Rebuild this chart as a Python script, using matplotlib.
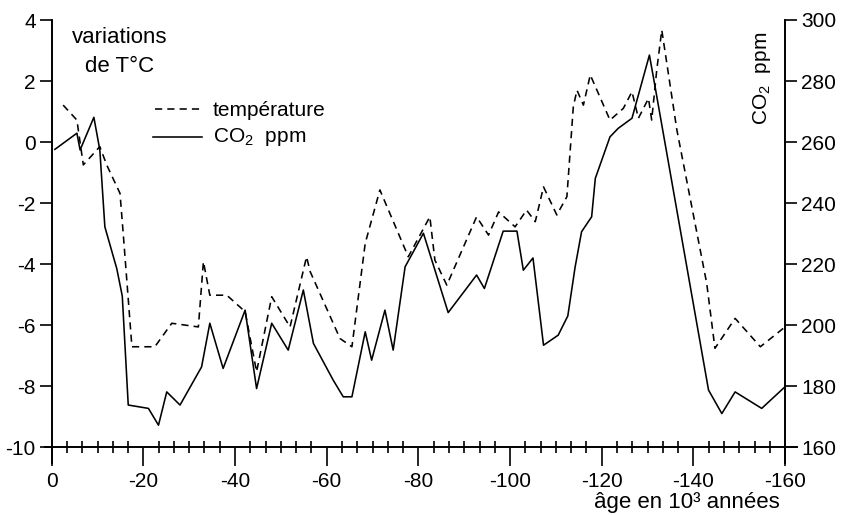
import matplotlib
matplotlib.use("Agg")
import matplotlib.pyplot as plt
from matplotlib.ticker import MultipleLocator, FixedLocator

plt.rcParams['font.family'] = ['Liberation Sans', 'DejaVu Sans']
plt.rcParams['axes.unicode_minus'] = False
plt.rcParams['mathtext.fontset'] = 'custom'
plt.rcParams['mathtext.rm'] = 'Liberation Sans'
plt.rcParams['mathtext.it'] = 'Liberation Sans:italic'

# ---- data (age in thousands of years before present, shown negative) ----
age_temp = [2.5, 5.5, 6.9, 10.5, 12.0, 14.9, 15.6, 17.5, 22.5, 26.2, 32.0, 33.1,
            34.5, 38.2, 42.2, 44.7, 48.0, 52.0, 55.6, 56.4, 62.9, 65.5, 68.4,
            71.6, 77.8, 82.5, 83.6, 86.2, 92.7, 95.3, 97.5, 101.1, 103.6, 105.5,
            107.3, 110.2, 112.4, 113.8, 114.6, 116.0, 117.5, 121.8, 124.7, 126.6,
            128.0, 130.2, 130.9, 132.0, 133.1, 136.4, 142.9, 144.7, 149.1, 154.6,
            160.0]
temp = [1.21, 0.72, -0.75, -0.15, -0.75, -1.68, -2.99, -6.71, -6.71, -5.94, -6.06,
        -3.92, -5.02, -5.02, -5.56, -7.53, -5.07, -6.06, -3.76, -4.25, -6.44, -6.71,
        -3.32, -1.57, -3.76, -2.45, -3.87, -4.69, -2.45, -3.05, -2.29, -2.78, -2.23,
        -2.61, -1.47, -2.39, -1.79, 1.16, 1.70, 1.21, 2.20, 0.72, 1.10, 1.65, 0.78,
        1.43, 0.72, 2.36, 3.67, 0.39, -4.63, -6.76, -5.78, -6.71, -6.06]

age_co2 = [0.7, 5.5, 6.2, 9.2, 10.5, 11.6, 14.2, 15.4, 16.7, 21.1, 23.3, 25.1,
           28.0, 32.7, 34.5, 37.4, 42.2, 44.7, 48.0, 51.6, 54.9, 57.1, 61.4, 63.6,
           65.5, 68.4, 69.8, 72.7, 74.5, 77.1, 81.1, 86.5, 92.7, 94.4, 98.5, 101.5,
           102.9, 105.0, 107.3, 110.5, 112.6, 114.2, 115.6, 117.8, 118.6, 121.8,
           123.6, 126.6, 130.4, 131.3, 143.3, 146.2, 149.1, 154.9, 160.0]
co2 = [257.6, 262.9, 257.4, 268.1, 257.4, 232.2, 218.5, 209.5, 173.8, 172.7, 167.2,
       178.1, 173.8, 186.3, 200.6, 185.8, 204.9, 179.2, 200.6, 191.8, 211.5, 194.0,
       182.0, 176.5, 176.5, 197.8, 188.5, 204.9, 191.8, 219.1, 230.1, 204.1, 216.4,
       212.0, 230.8, 230.8, 218.0, 222.0, 193.4, 196.7, 203.0, 219.1, 230.6, 235.5,
       248.1, 261.7, 264.5, 267.8, 288.5, 281.0, 178.7, 171.0, 178.1, 172.7, 179.8]

x_ticks = [0, -20, -40, -60, -80, -100, -120, -140, -160]
t_ticks = [4, 2, 0, -2, -4, -6, -8, -10]
c_ticks = [300, 280, 260, 240, 220, 200, 180, 160]

W, H = 843, 515
fig = plt.figure(figsize=(W / 100, H / 100), dpi=100)

def fx(px):
    return px / W

def fy(py):
    return 1 - py / H

ax = fig.add_axes([fx(45), fy(463), (797 - 45) / W, (463 - 20) / H])
ax.set_xlim(1.46, -162.6)
ax.set_ylim(-10.52, 4.0)

ax2 = ax.twinx()
ax2.set_ylim(260 + 10 * -10.52, 260 + 10 * 4.0)

ax.plot([-a for a in age_temp], temp, color='black', lw=1.15,
        linestyle=(0, (4.5, 3.2)))
ax2.plot([-a for a in age_co2], co2, color='black', lw=1.15)

for a in (ax, ax2):
    a.spines['top'].set_visible(False)
    a.patch.set_visible(False)
ax.spines['right'].set_visible(False)
ax.spines['left'].set_position(('data', 0))
ax.spines['bottom'].set_position(('data', -10))
ax2.spines['left'].set_visible(False)
ax2.spines['bottom'].set_visible(False)
ax2.spines['right'].set_position(('data', -160))
for s in ('left', 'bottom'):
    ax.spines[s].set_linewidth(1.4)
ax2.spines['right'].set_linewidth(1.4)

ax.xaxis.set_major_locator(FixedLocator(x_ticks))
ax.set_xticklabels([str(v) for v in x_ticks])
ax.xaxis.set_minor_locator(MultipleLocator(20 / 6))
ax.yaxis.set_major_locator(FixedLocator(t_ticks))
ax.set_yticklabels([str(v) for v in t_ticks])
ax2.yaxis.set_major_locator(FixedLocator(c_ticks))
ax2.set_yticklabels([str(v) for v in c_ticks])

ax.tick_params(axis='x', which='major', direction='out', length=14, width=1.2,
               pad=4, labelsize=15)
ax.tick_params(axis='x', which='minor', direction='inout', length=8, width=1.2)
ax.tick_params(axis='y', which='major', direction='out', length=8.5, width=1.2,
               pad=3, labelsize=15)
ax2.tick_params(axis='y', which='major', direction='out', length=8.5, width=1.2,
                pad=3, labelsize=15)

# annotations
fig.text(fx(120), fy(43), "variations", ha='center', va='baseline', fontsize=16)
fig.text(fx(120), fy(72), "de T°C", ha='center', va='baseline', fontsize=16)

# legend drawn by hand
ax.add_line(plt.Line2D([fx(155), fx(203)], [fy(109), fy(109)], transform=fig.transFigure,
                       color='black', lw=1.15, linestyle=(0, (4.5, 3.2))))
ax.add_line(plt.Line2D([fx(153), fx(202)], [fy(137), fy(137)], transform=fig.transFigure,
                       color='black', lw=1.15))
fig.text(fx(213), fy(116), "température", ha='left', va='baseline', fontsize=15)
fig.text(fx(213), fy(142), r"CO$_\mathregular{2}$  ppm", ha='left', va='baseline', fontsize=15)

fig.text(fx(762), fy(78), r"CO$_\mathregular{2}$  ppm", ha='center', va='center',
         rotation=90, fontsize=15)
fig.text(fx(780), fy(508), "âge en 10³ années", ha='right',
         va='baseline', fontsize=16)

fig.savefig("out.png", dpi=100)
